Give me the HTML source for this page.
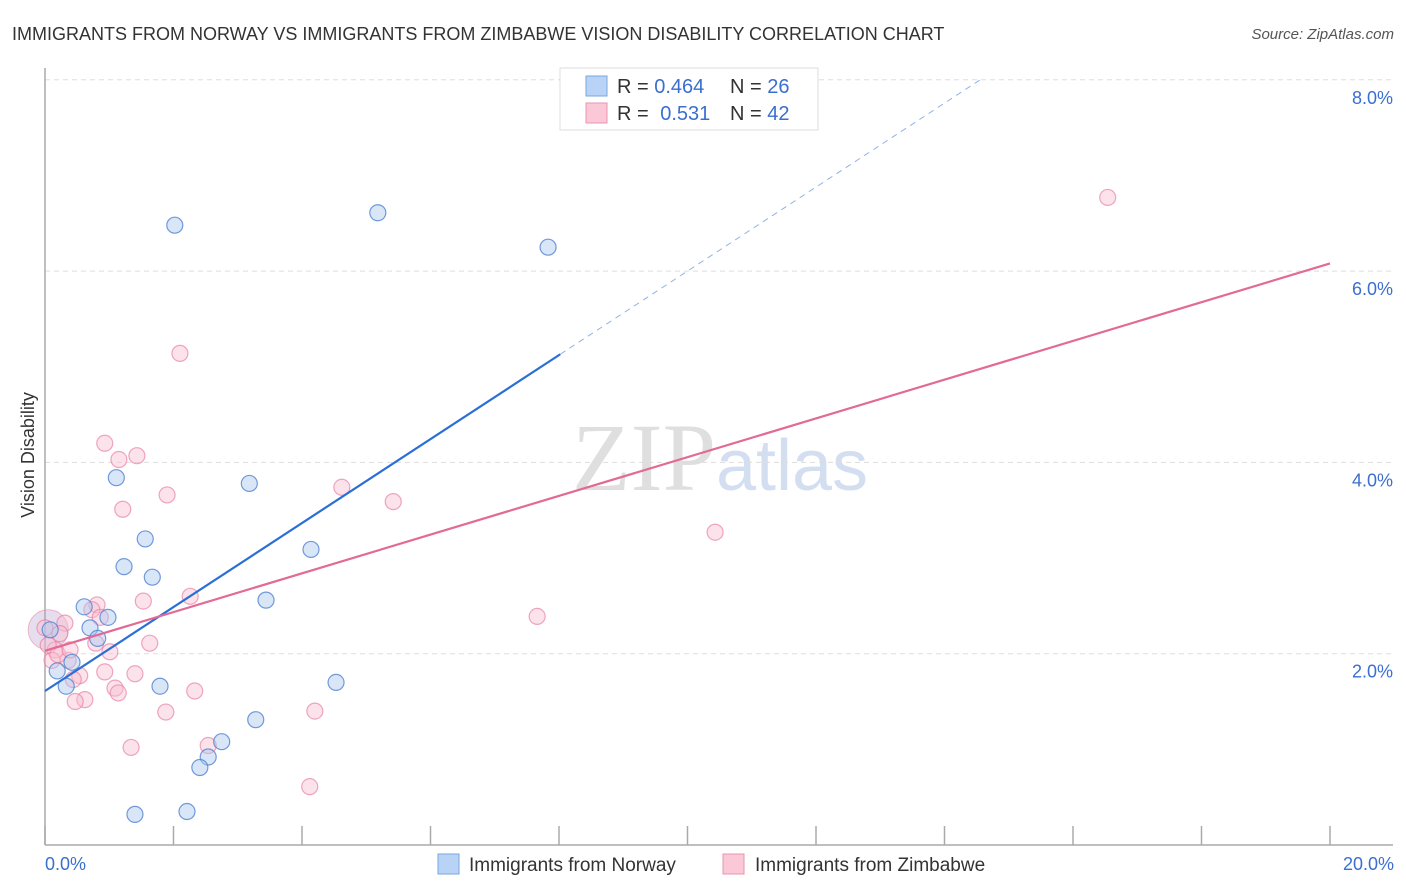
<!DOCTYPE html>
<html><head><meta charset="utf-8"><style>
body{margin:0;background:#fff;font-family:"Liberation Sans",sans-serif;}
svg{display:block}
</style></head><body>
<svg id="chart" width="1406" height="892" viewBox="0 0 1406 892" xmlns="http://www.w3.org/2000/svg">
<text x="12" y="40" font-size="18" fill="#333">IMMIGRANTS FROM NORWAY VS IMMIGRANTS FROM ZIMBABWE VISION DISABILITY CORRELATION CHART</text>
<text x="1394" y="39" font-size="15" fill="#555" text-anchor="end" font-style="italic">Source: ZipAtlas.com</text>
<text x="720" y="490" font-size="96" text-anchor="middle" fill="#ddd" opacity="0.8"><tspan font-family="Liberation Serif" fill="#d8d8d8">ZIP</tspan><tspan font-size="72" fill="#c9d8ee">atlas</tspan></text>
<g id="grid"></g>
<line x1="45" y1="68" x2="45" y2="845" stroke="#aaa" stroke-width="1.5"/>
<line x1="45" y1="845" x2="1393" y2="845" stroke="#aaa" stroke-width="1.5"/>
<g id="xticks"></g>
<text transform="translate(34,455) rotate(-90)" font-size="18" fill="#333" text-anchor="middle">Vision Disability</text>
<text x="45" y="870" font-size="18" fill="#3a6fd0">0.0%</text>
<text x="1394" y="870" font-size="18" fill="#3a6fd0" text-anchor="end">20.0%</text>
<g id="points"></g>
<g id="trends"></g>
<g>
<rect x="560" y="68" width="258" height="62" fill="#fff" stroke="#ddd"/>
<rect x="586" y="76" width="21" height="20" fill="#b8d3f5" stroke="#7aa7e0"/>
<rect x="586" y="103" width="21" height="20" fill="#fbc8d8" stroke="#eb94b0"/>
<text x="617" y="93" font-size="20" fill="#333">R = <tspan fill="#3a6fd0">0.464</tspan></text>
<text x="730" y="93" font-size="20" fill="#333">N = <tspan fill="#3a6fd0">26</tspan></text>
<text x="617" y="120" font-size="20" fill="#333">R = <tspan fill="#3a6fd0" dx="6">0.531</tspan></text>
<text x="730" y="120" font-size="20" fill="#333">N = <tspan fill="#3a6fd0">42</tspan></text>
</g>
<g>
<rect x="438" y="854" width="21" height="20" fill="#b8d3f5" stroke="#7aa7e0"/>
<text x="469" y="871" font-size="19" fill="#333">Immigrants from Norway</text>
<rect x="723" y="854" width="21" height="20" fill="#fbc8d8" stroke="#eb94b0"/>
<text x="755" y="871" font-size="19" fill="#333">Immigrants from Zimbabwe</text>
</g>
</svg>
<script>
const yTicks=[2,4,6,8];
const yTickLabels=["2.0%","4.0%","6.0%","8.0%"];
const xTicks=[0,2,4,6,8,10,12,14,16,18,20];
const norwayX=[2.02,5.18,7.83,1.11,3.18,1.56,4.14,1.23,1.67,3.44,0.61,0.98,0.70,0.82,0.08,0.42,0.19,0.33,1.79,4.53,3.28,2.75,2.54,2.41,1.40,2.21];
const norwayY=[6.48,6.61,6.25,3.84,3.78,3.20,3.09,2.91,2.80,2.56,2.49,2.38,2.27,2.16,2.25,1.91,1.82,1.66,1.66,1.70,1.31,1.08,0.92,0.81,0.32,0.35];
const zimX=[16.54,2.10,0.93,1.43,1.15,1.90,4.62,5.42,1.21,10.43,2.26,1.53,7.66,0.81,0.73,0.86,0.31,0.0,0.23,1.63,0.79,1.01,0.16,0.11,0.36,0.93,1.40,0.54,0.44,1.09,1.14,2.33,0.62,0.47,1.88,4.20,2.54,1.34,4.12,0.05,0.20,0.39];
const zimY=[6.77,5.14,4.20,4.07,4.03,3.66,3.74,3.59,3.51,3.27,2.60,2.55,2.39,2.51,2.46,2.38,2.32,2.27,2.21,2.11,2.11,2.02,2.04,1.93,1.93,1.81,1.79,1.77,1.73,1.64,1.59,1.61,1.52,1.50,1.39,1.40,1.04,1.02,0.61,2.09,1.99,2.04];
const norwayTrend=[1.61,0.439];
const zimTrend=[2.03,0.2025];
const NS="http://www.w3.org/2000/svg";
const xs=v=>45+v*64.25, ys=v=>845-v*95.65;
function mk(tag,attrs,parent){const e=document.createElementNS(NS,tag);for(const k in attrs)e.setAttribute(k,attrs[k]);parent.appendChild(e);return e;}
const grid=document.getElementById('grid');
yTicks.forEach((t,i)=>{
 const l=mk('line',{x1:45,x2:1393,y1:ys(t),y2:ys(t),stroke:'#ddd','stroke-dasharray':'5,4'},grid);
 
 
 const tx=mk('text',{x:1393,y:ys(t)+24,'font-size':18,fill:'#3a6fd0','text-anchor':'end'},grid);
 tx.textContent=yTickLabels[i];
 
 
});
const xt=document.getElementById('xticks');
xTicks.forEach(t=>{
 const l=mk('line',{x1:xs(t),x2:xs(t),y1:826,y2:845,stroke:'#aaa','stroke-width':1.5},xt);
 
 
});
const pts=document.getElementById('points');
// large cluster marker at origin
const big=mk('circle',{cx:xs(0.05),cy:ys(2.25),r:20,fill:'rgba(184,160,210,0.35)',stroke:'rgba(230,140,170,0.6)'},pts);


zimX.forEach((x,i)=>{
 const c=mk('circle',{cx:xs(x),cy:ys(zimY[i]),r:8,fill:'rgba(248,190,208,0.45)',stroke:'rgba(232,130,165,0.7)','stroke-width':1.2},pts);
 
 
});
norwayX.forEach((x,i)=>{
 const c=mk('circle',{cx:xs(x),cy:ys(norwayY[i]),r:8,fill:'rgba(170,200,240,0.45)',stroke:'rgba(80,130,210,0.8)','stroke-width':1.2},pts);
 
 
});
const tr=document.getElementById('trends');
const nb=norwayTrend[0],nm=norwayTrend[1];
const l1=mk('line',{x1:xs(0),y1:ys(nb),x2:xs(8.02),y2:ys(nb+nm*8.02),stroke:'#2a6fd6','stroke-width':2.2},tr);


const xe=(8-nb)/nm;
const l2=mk('line',{x1:xs(8.02),y1:ys(nb+nm*8.02),x2:xs(xe),y2:ys(8),stroke:'#8fb3e6','stroke-width':1,'stroke-dasharray':'6,5'},tr);


const l3=mk('line',{x1:xs(0),y1:ys(zimTrend[0]),x2:xs(20),y2:ys(zimTrend[0]+zimTrend[1]*20),stroke:'#e26a96','stroke-width':2.2},tr);


</script>
</body></html>
